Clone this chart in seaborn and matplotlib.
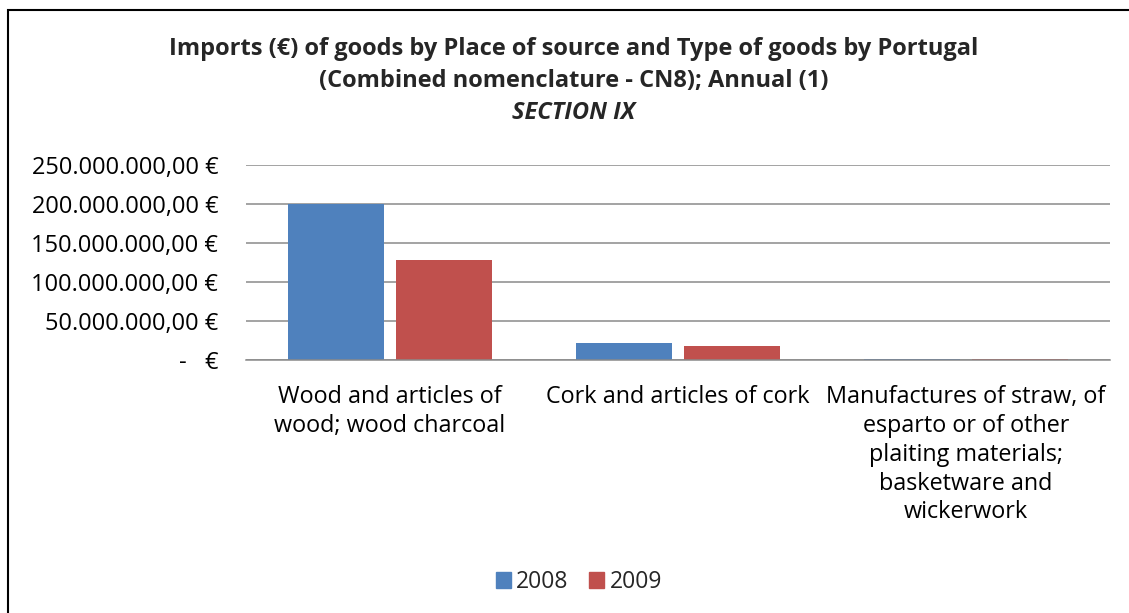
import pandas as pd
import seaborn as sns
import matplotlib
matplotlib.use("Agg")
from matplotlib import pyplot as plt
from matplotlib.ticker import FuncFormatter
from matplotlib.patches import Rectangle

# data
categories = [
    "Wood and articles of\nwood; wood charcoal",
    "Cork and articles of cork",
    "Manufactures of straw, of\nesparto or of other\nplaiting materials;\nbasketware and\nwickerwork",
]
years = ["2008", "2009"]
values_2008 = [200_000_000, 21_500_000, 1_300_000]
values_2009 = [127_800_000, 17_600_000, 1_000_000]
y_ticks = [0, 50_000_000, 100_000_000, 150_000_000, 200_000_000, 250_000_000]
title_lines = [
    "Imports (€) of goods by Place of source and Type of goods by Portugal",
    "(Combined nomenclature - CN8); Annual (1)",
    "SECTION IX",
]

colors = ["#4F81BD", "#C0504D"]
FONT = ["Open Sans", "DejaVu Sans"]


def euro_fmt(v, pos=None):
    """Format a value like Excel's Portuguese accounting format."""
    if v == 0:
        return "-   €"
    s = "{:,.2f}".format(v)
    s = s.replace(",", "X").replace(".", ",").replace("X", ".")
    return s + " €"


df = pd.DataFrame({
    "category": categories * 2,
    "year": [years[0]] * 3 + [years[1]] * 3,
    "value": values_2008 + values_2009,
})

sns.set_theme(style="white")
plt.rcParams["font.family"] = FONT

fig = plt.figure(figsize=(11.29, 6.13), dpi=100)
ax = fig.add_axes([246 / 1129, 1 - 360 / 613, 864 / 1129, 195 / 613])

sns.barplot(data=df, x="category", y="value", hue="year", palette=colors,
            width=0.75, gap=0.12, saturation=1, ax=ax, legend=False,
            edgecolor="none")

ax.set_ylim(0, 250_000_000)
ax.set_xlim(-0.5, 2.5)
ax.set_yticks(y_ticks)
ax.yaxis.set_major_formatter(FuncFormatter(euro_fmt))
ax.yaxis.grid(True, color="#8a8a8a", linewidth=1.1)
ax.set_axisbelow(True)
for side in ["left", "right", "top"]:
    ax.spines[side].set_visible(False)
ax.spines["bottom"].set_color("#8a8a8a")
ax.spines["bottom"].set_linewidth(1.1)
ax.tick_params(axis="y", length=0, pad=20, labelsize=17, labelcolor="black")
ax.tick_params(axis="x", length=0, pad=18, labelsize=16.8, labelcolor="black")
for lbl in ax.get_xticklabels():
    lbl.set_linespacing(1.27)
    lbl.set_verticalalignment("top")
ax.set_xlabel("")
ax.set_ylabel("")

title_y = [49, 81, 113]
for i, line in enumerate(title_lines):
    fig.text(574 / 1129, 1 - title_y[i] / 613, line, ha="center", va="center",
             fontsize=17, fontweight="bold",
             style="italic" if i == 2 else "normal")

handles = [Rectangle((0, 0), 1, 1, color=c) for c in colors]
fig.legend(handles, years, loc="center", bbox_to_anchor=(579 / 1129, 1 - 582 / 613),
           ncol=2, frameon=False, fontsize=16.5, handlelength=0.65, handleheight=0.65,
           handletextpad=0.25, columnspacing=0.9)

# chart border like the Excel frame
fig.patches.append(Rectangle((8 / 1129, -0.1), 1.2, 1 - 10 / 613 + 0.1,
                             transform=fig.transFigure, fill=False,
                             edgecolor="black", linewidth=1.5))

fig.savefig("out.png", dpi=100)
